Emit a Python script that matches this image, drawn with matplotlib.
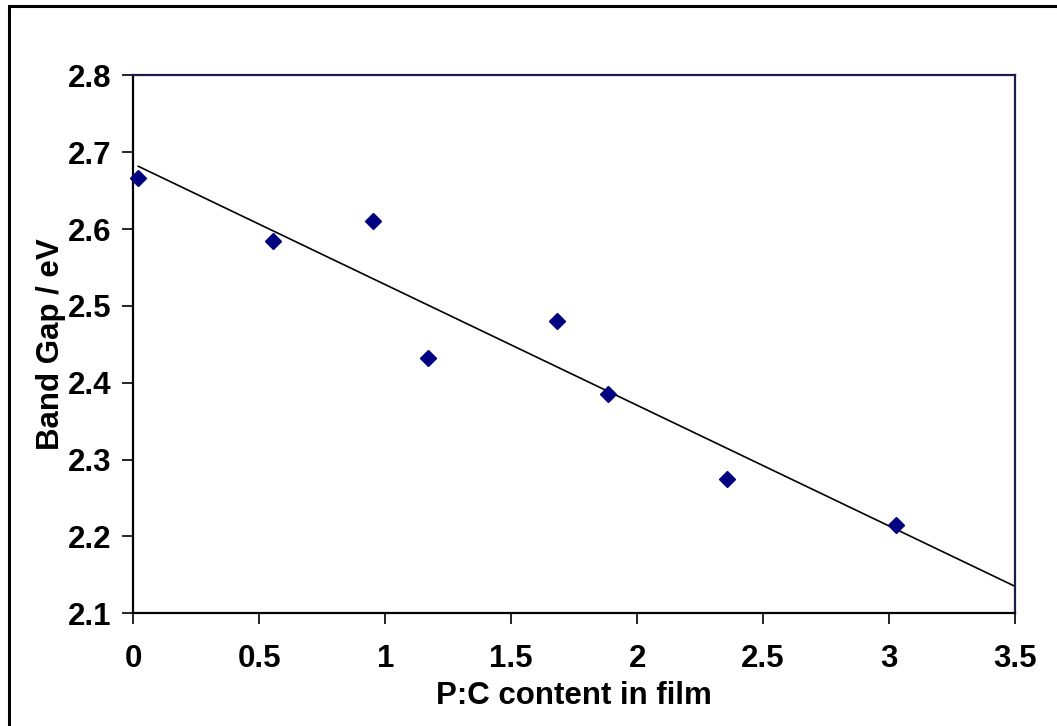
import numpy as np
import matplotlib
matplotlib.use("Agg")
import matplotlib.pyplot as plt
from matplotlib.patches import Rectangle

# Data
pc_content = [0.020, 0.553, 0.950, 1.171, 1.682, 1.886, 2.357, 3.027]
band_gap = [2.667, 2.584, 2.611, 2.432, 2.480, 2.385, 2.275, 2.215]
x_ticks = [0, 0.5, 1, 1.5, 2, 2.5, 3, 3.5]
x_tick_labels = ["0", "0.5", "1", "1.5", "2", "2.5", "3", "3.5"]
y_ticks = [2.1, 2.2, 2.3, 2.4, 2.5, 2.6, 2.7, 2.8]
y_tick_labels = ["2.1", "2.2", "2.3", "2.4", "2.5", "2.6", "2.7", "2.8"]

plt.rcParams['font.family'] = ['Liberation Sans', 'DejaVu Sans']
plt.rcParams['font.weight'] = 'bold'

W, H = 1057, 726
fig = plt.figure(figsize=(W / 100, H / 100), dpi=100)
fig.patch.set_facecolor('white')

ax = fig.add_axes([133.3 / W, 1 - 613.3 / H, (1015 - 133.3) / W, (613.3 - 75.3) / H])

# linear trendline (least squares), from first point forward to 3.5
slope, intercept = np.polyfit(pc_content, band_gap, 1)
tx = np.array([min(pc_content), 3.5])
ax.plot(tx, slope * tx + intercept, color='black', lw=1.2, zorder=2)

ax.plot(pc_content, band_gap, linestyle='none', marker='D', ms=8.5,
        color='#000080', markeredgecolor='#000080', zorder=3, clip_on=False)

ax.set_xlim(0, 3.5)
ax.set_ylim(2.1, 2.8)
ax.set_xticks(x_ticks)
ax.set_xticklabels(x_tick_labels)
ax.set_yticks(y_ticks)
ax.set_yticklabels(y_tick_labels)

fs = 22.5
ax.tick_params(axis='both', direction='out', length=7.8, width=1.2, color='black',
               labelsize=fs, top=False, right=False)
ax.tick_params(axis='x', pad=14)
ax.tick_params(axis='y', pad=8)
for lab in ax.get_xticklabels() + ax.get_yticklabels():
    lab.set_fontweight('bold')

for side in ['left', 'bottom']:
    ax.spines[side].set_color('black')
    ax.spines[side].set_linewidth(1.6)
for side in ['top', 'right']:
    ax.spines[side].set_color('#1c1c48')
    ax.spines[side].set_linewidth(1.6)

ax.set_xlabel('P:C content in film', fontsize=fs, fontweight='bold', labelpad=5)
ax.set_ylabel('Band Gap / eV', fontsize=fs, fontweight='bold', labelpad=1)

# outer chart border (open to right/bottom edges of the image)
fig.add_artist(Rectangle((8.5 / W, -0.1), 1.2, 1.1 - 6.5 / H, fill=False,
                         edgecolor='black', lw=2.2, transform=fig.transFigure,
                         clip_on=False))

fig.savefig('out.png', dpi=100, facecolor='white')
